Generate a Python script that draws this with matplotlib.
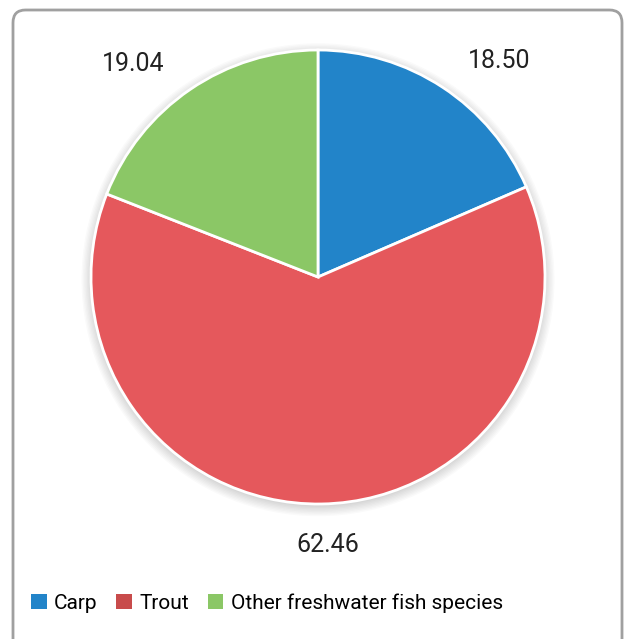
import matplotlib.pyplot as plt
from matplotlib.patches import FancyBboxPatch, Patch, Circle

# data
species = ['Carp', 'Trout', 'Other freshwater fish species']
shares = [18.50, 62.46, 19.04]
pie_colors = ['#2284C9', '#E5585C', '#8BC766']
legend_colors = ['#2284C9', '#C84B4B', '#8BC766']

plt.rcParams['font.family'] = ['Roboto', 'DejaVu Sans']

W, H = 625, 639
fig = plt.figure(figsize=(W / 100, H / 100), dpi=100)

# rounded frame around the chart
frame = FancyBboxPatch((13 / W, -20 / H), 609 / W, 649 / H,
                       boxstyle='round,pad=0,rounding_size=0.02',
                       transform=fig.transFigure, facecolor='none',
                       edgecolor='#A0A0A0', linewidth=2, zorder=5)
fig.patches.append(frame)

# pie centre (318, 277) px, radius 227 px
cx, cy, r = 318, 277, 227
ax = fig.add_axes([0, 0, 1, 1])
ax.patch.set_alpha(0)

# soft shadow under the pie
for i in range(8):
    ax.add_patch(Circle((0, -0.012), 1.0 + i * 0.006, color='black',
                        alpha=0.02, lw=0, zorder=0))

wedges, texts = ax.pie(shares, colors=pie_colors, startangle=90,
                       counterclock=False, labels=[f'{v:.2f}' for v in shares],
                       labeldistance=1.2,
                       wedgeprops=dict(edgecolor='white', linewidth=2),
                       textprops=dict(fontsize=18, color='#222222'))
for w in wedges:
    w.set_zorder(2)
# labels hang from their anchor, away from the pie
for t in texts:
    x, y = t.get_position()
    if x > 0.2:
        t.set_horizontalalignment('left')
    elif x < -0.2:
        t.set_horizontalalignment('right')
    else:
        t.set_horizontalalignment('center')
        t.set_position((x + 0.025, y + 0.02))
    t.set_verticalalignment('top' if y > 0 else 'center')
ax.set_xlim(-cx / r, (W - cx) / r)
ax.set_ylim(-(H - cy) / r, cy / r)
ax.set_aspect('auto')
ax.axis('off')

handles = [Patch(facecolor=c, edgecolor='none') for c in legend_colors]
fig.legend(handles, species, loc='center', bbox_to_anchor=(267 / W, 1 - 603 / H),
           ncol=3, frameon=False, fontsize=15, handlelength=0.75,
           handleheight=0.75, handletextpad=0.35, columnspacing=0.9)

fig.savefig('out.png', dpi=100)
